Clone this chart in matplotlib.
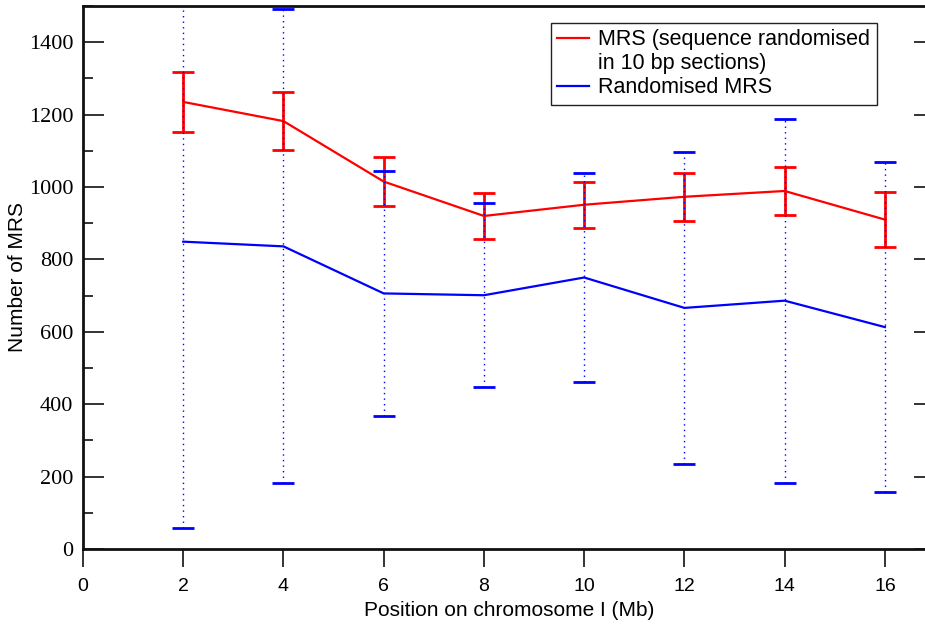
import matplotlib
matplotlib.use("Agg")
import matplotlib.pyplot as plt
from matplotlib.ticker import MultipleLocator
from matplotlib.lines import Line2D

# Position on chromosome I (Mb)
positions = [2, 4, 6, 8, 10, 12, 14, 16]

# MRS counts with the sequence randomised in 10 bp sections
mrs_sections = [1235, 1182, 1015, 920, 951, 973, 989, 910]
mrs_sections_err = [82, 80, 68, 63, 64, 66, 67, 77]

# Fully randomised MRS counts
mrs_random = [849, 836, 706, 701, 750, 666, 686, 613]
mrs_random_err = [790, 655, 339, 254, 288, 430, 503, 455]

x_ticks = [0, 2, 4, 6, 8, 10, 12, 14, 16]
y_ticks = [0, 200, 400, 600, 800, 1000, 1200, 1400]

W, H = 925, 624
fig = plt.figure(figsize=(W / 100, H / 100), dpi=100)
left, right, top, bottom = 83, 935, 6, 549
ax = fig.add_axes([left / W, 1 - bottom / H, (right - left) / W, (bottom - top) / H])

red = "#ff0000"
blue = "#0000ff"

ax.errorbar(positions, mrs_sections, yerr=mrs_sections_err, color=red,
            lw=1.6, elinewidth=2.0, capsize=8, capthick=2.0, zorder=3)
eb = ax.errorbar(positions, mrs_random, yerr=mrs_random_err, color=blue,
                 lw=1.6, elinewidth=1.0, capsize=8, capthick=2.0, zorder=4)
eb[2][0].set_linestyle((0, (1, 3)))

ax.set_xlim(0, 17)
ax.set_ylim(0, 1500)
ax.set_xticks(x_ticks)
ax.set_yticks(y_ticks)
ax.yaxis.set_minor_locator(MultipleLocator(100))

for s in ax.spines.values():
    s.set_linewidth(2.0)
    s.set_color("#111111")

ax.tick_params(axis="y", which="major", direction="in", length=15, width=1.4,
               color="#333333", right=True, pad=7)
ax.tick_params(axis="y", which="minor", direction="in", length=7.5, width=1.4,
               color="#333333", right=True)
ax.tick_params(axis="x", which="major", direction="out", length=13, width=1.4,
               color="#333333", pad=8)

for lbl in ax.get_yticklabels():
    lbl.set_fontfamily("Liberation Serif")
    lbl.set_fontsize(16)
for lbl in ax.get_xticklabels():
    lbl.set_fontfamily("Liberation Sans")
    lbl.set_fontsize(14)

ax.set_xlabel("Position on chromosome I (Mb)", fontfamily="Liberation Sans",
              fontsize=15, labelpad=4)
ax.set_ylabel("Number of MRS", fontfamily="Liberation Sans", fontsize=15,
              labelpad=1)

# The first entry wraps onto a second row; its line sample sits beside the top row
handles = [Line2D([], [], color=red, lw=1.6),
           Line2D([], [], color="none", lw=0),
           Line2D([], [], color=blue, lw=1.6)]
labels = ["MRS (sequence randomised", "in 10 bp sections)", "Randomised MRS"]
leg = ax.legend(handles, labels,
                loc="upper left", bbox_to_anchor=((551 - left) / (right - left), 1 - (23 - top) / (bottom - top)),
                prop={"family": "Liberation Sans", "size": 15.5}, fancybox=False,
                framealpha=1, edgecolor="#222222", handlelength=1.45,
                handletextpad=0.45, borderpad=0.3, borderaxespad=0,
                labelspacing=0.14)
leg.get_frame().set_linewidth(1.0)

fig.savefig("out.png", dpi=100)
